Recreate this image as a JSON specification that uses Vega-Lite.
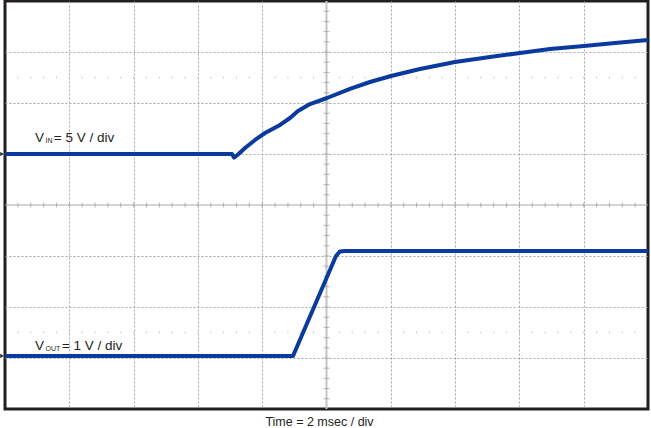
{
  "$schema": "https://vega.github.io/schema/vega-lite/v6.json",
  "width": 643,
  "height": 408,
  "autosize": {"type": "none"},
  "padding": {"left": 5, "top": 1, "right": 3, "bottom": 19},
  "background": "white",
  "config": {
    "view": {"stroke": "#231f20", "strokeWidth": 3},
    "font": "Liberation Sans"
  },
  "datasets": {
    "one": [{"id": 1}],
    "traces": [
      {"trace": "VIN", "t": 0, "v": 1.0},
      {"trace": "VIN", "t": 7.061, "v": 1.0},
      {"trace": "VIN", "t": 7.123, "v": 0.93},
      {"trace": "VIN", "t": 7.247, "v": 0.99},
      {"trace": "VIN", "t": 7.465, "v": 1.118},
      {"trace": "VIN", "t": 7.776, "v": 1.275},
      {"trace": "VIN", "t": 8.087, "v": 1.412},
      {"trace": "VIN", "t": 8.554, "v": 1.569},
      {"trace": "VIN", "t": 8.865, "v": 1.706},
      {"trace": "VIN", "t": 9.113, "v": 1.843},
      {"trace": "VIN", "t": 9.487, "v": 1.98},
      {"trace": "VIN", "t": 10.016, "v": 2.098},
      {"trace": "VIN", "t": 10.731, "v": 2.275},
      {"trace": "VIN", "t": 11.353, "v": 2.412},
      {"trace": "VIN", "t": 12.006, "v": 2.529},
      {"trace": "VIN", "t": 12.908, "v": 2.667},
      {"trace": "VIN", "t": 13.997, "v": 2.804},
      {"trace": "VIN", "t": 15.085, "v": 2.902},
      {"trace": "VIN", "t": 16.018, "v": 2.98},
      {"trace": "VIN", "t": 16.952, "v": 3.059},
      {"trace": "VIN", "t": 18.009, "v": 3.118},
      {"trace": "VIN", "t": 18.973, "v": 3.176},
      {"trace": "VIN", "t": 20.0, "v": 3.235},
      {"trace": "VOUT", "t": 0, "v": -2.96},
      {"trace": "VOUT", "t": 8.958, "v": -2.96},
      {"trace": "VOUT", "t": 10.295, "v": -1.0},
      {"trace": "VOUT", "t": 10.42, "v": -0.91},
      {"trace": "VOUT", "t": 10.575, "v": -0.9},
      {"trace": "VOUT", "t": 20.0, "v": -0.9}
    ],
    "xticks": [
      {"t": 0.4}, {"t": 0.8}, {"t": 1.2}, {"t": 1.6}, {"t": 2}, {"t": 2.4}, {"t": 2.8}, {"t": 3.2}, {"t": 3.6}, {"t": 4},
      {"t": 4.4}, {"t": 4.8}, {"t": 5.2}, {"t": 5.6}, {"t": 6}, {"t": 6.4}, {"t": 6.8}, {"t": 7.2}, {"t": 7.6}, {"t": 8},
      {"t": 8.4}, {"t": 8.8}, {"t": 9.2}, {"t": 9.6}, {"t": 10.4}, {"t": 10.8}, {"t": 11.2}, {"t": 11.6}, {"t": 12},
      {"t": 12.4}, {"t": 12.8}, {"t": 13.2}, {"t": 13.6}, {"t": 14}, {"t": 14.4}, {"t": 14.8}, {"t": 15.2}, {"t": 15.6}, {"t": 16},
      {"t": 16.4}, {"t": 16.8}, {"t": 17.2}, {"t": 17.6}, {"t": 18}, {"t": 18.4}, {"t": 18.8}, {"t": 19.2}, {"t": 19.6}
    ],
    "yticks": [
      {"v": -3.8}, {"v": -3.6}, {"v": -3.4}, {"v": -3.2}, {"v": -3}, {"v": -2.8}, {"v": -2.6}, {"v": -2.4}, {"v": -2.2}, {"v": -2},
      {"v": -1.8}, {"v": -1.6}, {"v": -1.4}, {"v": -1.2}, {"v": -1}, {"v": -0.8}, {"v": -0.6}, {"v": -0.4}, {"v": -0.2},
      {"v": 0.2}, {"v": 0.4}, {"v": 0.6}, {"v": 0.8}, {"v": 1}, {"v": 1.2}, {"v": 1.4}, {"v": 1.6}, {"v": 1.8}, {"v": 2},
      {"v": 2.2}, {"v": 2.4}, {"v": 2.6}, {"v": 2.8}, {"v": 3}, {"v": 3.2}, {"v": 3.4}, {"v": 3.6}, {"v": 3.8}
    ],
    "labels": [
      {"label": "V", "t": 0.93, "v": 1.235},
      {"label": "= 5 V / div", "t": 1.52, "v": 1.235},
      {"label": "V", "t": 0.93, "v": -2.84},
      {"label": "= 1 V / div", "t": 1.77, "v": -2.84}
    ],
    "subs": [
      {"label": "IN", "t": 1.26, "v": 1.235},
      {"label": "OUT", "t": 1.26, "v": -2.84}
    ],
    "markers": [
      {"trace": "VIN", "v": 1.0},
      {"trace": "VOUT", "v": -2.96}
    ]
  },
  "layer": [
    {
      "data": {"name": "xticks"},
      "mark": {"type": "tick", "orient": "vertical", "size": 2, "thickness": 1, "color": "#b4b4b4"},
      "encoding": {
        "x": {
          "field": "t", "type": "quantitative",
          "scale": {"domain": [0, 20], "nice": false, "zero": false},
          "axis": {
            "values": [2, 4, 6, 8, 12, 14, 16, 18],
            "grid": true, "gridColor": "#a8a8a8", "gridDash": [2, 2], "gridWidth": 1,
            "ticks": false, "labels": false, "domain": false,
            "title": "Time = 2 msec / div",
            "titleFont": "Liberation Sans", "titleFontSize": 12.5, "titleFontWeight": "normal",
            "titleColor": "#231f20", "titleX": 314, "titleY": 16, "titleAlign": "center", "titleBaseline": "alphabetic"
          }
        },
        "y": {
          "datum": 2.5, "type": "quantitative",
          "scale": {"domain": [-4, 4], "nice": false, "zero": false},
          "axis": {
            "values": [-3, -2, -1, 1, 2, 3],
            "grid": true, "gridColor": "#a8a8a8", "gridDash": [2, 2], "gridWidth": 1,
            "ticks": false, "labels": false, "domain": false, "title": null
          }
        }
      }
    },
    {
      "data": {"name": "xticks"},
      "mark": {"type": "tick", "orient": "vertical", "size": 2, "thickness": 1, "color": "#b4b4b4"},
      "encoding": {
        "x": {"field": "t", "type": "quantitative"},
        "y": {"datum": -2.5, "type": "quantitative"}
      }
    },
    {
      "data": {"name": "one"},
      "mark": {"type": "rule", "color": "#c4c4c4", "strokeWidth": 2},
      "encoding": {"x": {"datum": 10, "type": "quantitative"}}
    },
    {
      "data": {"name": "one"},
      "mark": {"type": "rule", "color": "#a8a8a8", "strokeWidth": 1},
      "encoding": {"y": {"datum": 0, "type": "quantitative"}}
    },
    {
      "data": {"name": "xticks"},
      "mark": {"type": "tick", "orient": "vertical", "size": 5, "thickness": 1, "color": "#9a9a9a"},
      "encoding": {
        "x": {"field": "t", "type": "quantitative"},
        "y": {"datum": 0, "type": "quantitative"}
      }
    },
    {
      "data": {"name": "yticks"},
      "mark": {"type": "tick", "orient": "horizontal", "size": 6, "thickness": 1, "color": "#9a9a9a"},
      "encoding": {
        "y": {"field": "v", "type": "quantitative"},
        "x": {"datum": 10, "type": "quantitative"}
      }
    },
    {
      "data": {"name": "traces"},
      "mark": {"type": "line", "color": "#0a3a9e", "strokeWidth": 4, "strokeJoin": "round", "strokeCap": "butt"},
      "encoding": {
        "x": {"field": "t", "type": "quantitative"},
        "y": {"field": "v", "type": "quantitative"},
        "detail": {"field": "trace"}
      }
    },
    {
      "data": {"name": "labels"},
      "mark": {"type": "text", "align": "left", "baseline": "alphabetic", "fontSize": 13.5, "font": "Liberation Sans", "color": "#231f20"},
      "encoding": {
        "x": {"field": "t", "type": "quantitative"},
        "y": {"field": "v", "type": "quantitative"},
        "text": {"field": "label"}
      }
    },
    {
      "data": {"name": "subs"},
      "mark": {"type": "text", "align": "left", "baseline": "alphabetic", "fontSize": 7, "font": "Liberation Sans", "color": "#231f20", "dy": 1},
      "encoding": {
        "x": {"field": "t", "type": "quantitative"},
        "y": {"field": "v", "type": "quantitative"},
        "text": {"field": "label"}
      }
    },
    {
      "data": {"name": "markers"},
      "mark": {"type": "point", "shape": "triangle-right", "filled": true, "size": 18, "color": "#231f20", "xOffset": -3, "opacity": 1},
      "encoding": {
        "x": {"datum": 0, "type": "quantitative"},
        "y": {"field": "v", "type": "quantitative"}
      }
    }
  ]
}
